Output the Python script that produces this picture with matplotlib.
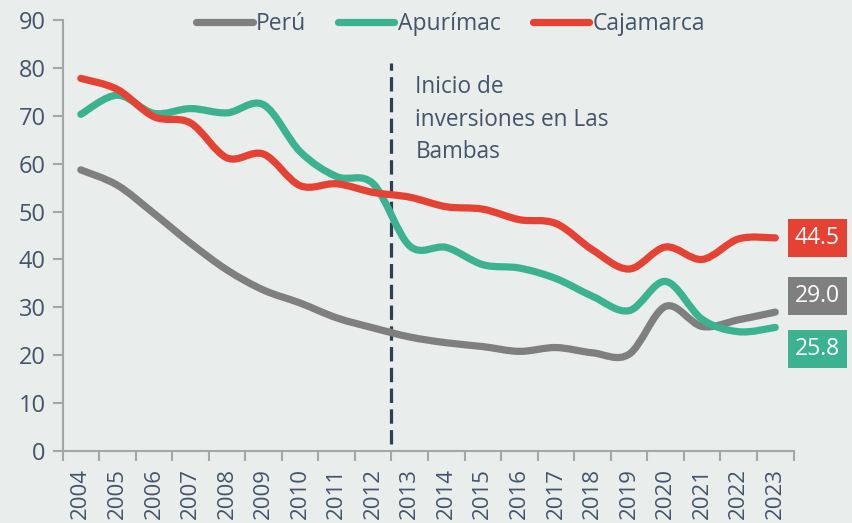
import matplotlib
matplotlib.use('Agg')
import matplotlib.pyplot as plt
from matplotlib.path import Path
from matplotlib.patches import PathPatch
from matplotlib.lines import Line2D

years = [str(y) for y in range(2004, 2024)]
peru = [58.7, 55.5, 49.6, 43.4, 37.8, 33.6, 30.9, 27.8, 25.7, 23.8,
        22.6, 21.8, 20.8, 21.6, 20.5, 20.2, 30.2, 26.0, 27.4, 29.0]
apurimac = [70.3, 74.3, 70.5, 71.5, 70.6, 72.3, 62.5, 57.3, 55.8, 42.8,
            42.5, 38.9, 38.2, 36.0, 32.3, 29.3, 35.4, 27.5, 24.9, 25.8]
cajamarca = [77.8, 75.5, 69.8, 68.5, 61.2, 62.0, 55.4, 55.8, 54.0, 53.0,
             51.0, 50.5, 48.3, 47.5, 42.0, 38.0, 42.6, 40.0, 44.3, 44.5]

series = [("Perú", peru, "#7f7f7f"),
          ("Apurímac", apurimac, "#3bb391"),
          ("Cajamarca", cajamarca, "#e54234")]
# label boxes are nudged apart so they don't overlap
label_pos = {"Perú": 32.3, "Apurímac": 21.3, "Cajamarca": 44.5}

text_col = "#44546a"
bg = "#e9edec"
plt.rcParams['font.family'] = ['Open Sans', 'DejaVu Sans']


def smooth_path(xs, ys):
    # catmull-rom through the points, drawn as cubic beziers
    pts = list(zip(xs, ys))
    verts = [pts[0]]
    codes = [Path.MOVETO]
    n = len(pts)
    for i in range(n - 1):
        p0 = pts[i - 1] if i > 0 else pts[i]
        p1 = pts[i]
        p2 = pts[i + 1]
        p3 = pts[i + 2] if i + 2 < n else pts[i + 1]
        c1 = (p1[0] + (p2[0] - p0[0]) / 6, p1[1] + (p2[1] - p0[1]) / 6)
        c2 = (p2[0] - (p3[0] - p1[0]) / 6, p2[1] - (p3[1] - p1[1]) / 6)
        verts += [c1, c2, p2]
        codes += [Path.CURVE4] * 3
    return Path(verts, codes)


fig = plt.figure(figsize=(8.52, 5.23), dpi=100, facecolor=bg)
ax = fig.add_axes([0.0734, 0.1377, 0.858, 0.8241], facecolor=bg)

x = list(range(len(years)))
handles = []
for name, vals, col in series:
    patch = PathPatch(smooth_path(x, vals), facecolor='none', edgecolor=col,
                      lw=5.2, capstyle='round', joinstyle='round', zorder=3)
    ax.add_patch(patch)
    handles.append(Line2D([], [], color=col, lw=5.2, solid_capstyle='round', label=name))
    ax.annotate(f"{vals[-1]:.1f}", xy=(1.0, label_pos[name]), xycoords=('axes fraction', 'data'),
                xytext=(1, 0), textcoords='offset points', ha='left', va='center',
                fontsize=16.5, color='white', annotation_clip=False,
                bbox=dict(boxstyle='square,pad=0.3', fc=col, ec='none'))

ax.axvline(8.5, ymin=1.5 / 90, ymax=81 / 90, color="#2f3e52", lw=2.3,
           ls=(0, (4.5, 2.0)), zorder=2)
ax.text(9.15, 78.5, "Inicio de\ninversiones en Las\nBambas", fontsize=16.3,
        color=text_col, va='top', ha='left', linespacing=1.48)

ax.set_xlim(-0.5, len(years) - 0.5)
ax.set_ylim(0, 90)
ax.set_yticks(range(0, 91, 10))
ax.set_xticks(x)
ax.set_xticklabels(years, rotation=90)
ax.set_xticks([i - 0.5 for i in range(len(years) + 1)], minor=True)
ax.tick_params(axis='x', which='major', length=0, pad=12, labelsize=16, labelcolor=text_col)
ax.tick_params(axis='x', which='minor', length=7, width=1.5, color="#a6a6a6")
ax.tick_params(axis='y', length=7, width=1.5, color="#a6a6a6", labelsize=17,
               labelcolor=text_col, pad=5)
for s in ['top', 'right']:
    ax.spines[s].set_visible(False)
for s in ['left', 'bottom']:
    ax.spines[s].set_color("#a6a6a6")
    ax.spines[s].set_linewidth(1.5)

fig.legend(handles=handles, loc='center', bbox_to_anchor=(0.529, 0.955), ncol=3,
           frameon=False, fontsize=16.5, handlelength=2.45, handletextpad=0.15,
           columnspacing=1.4, labelcolor=text_col)

fig.savefig("out.png", dpi=100, facecolor=bg)
